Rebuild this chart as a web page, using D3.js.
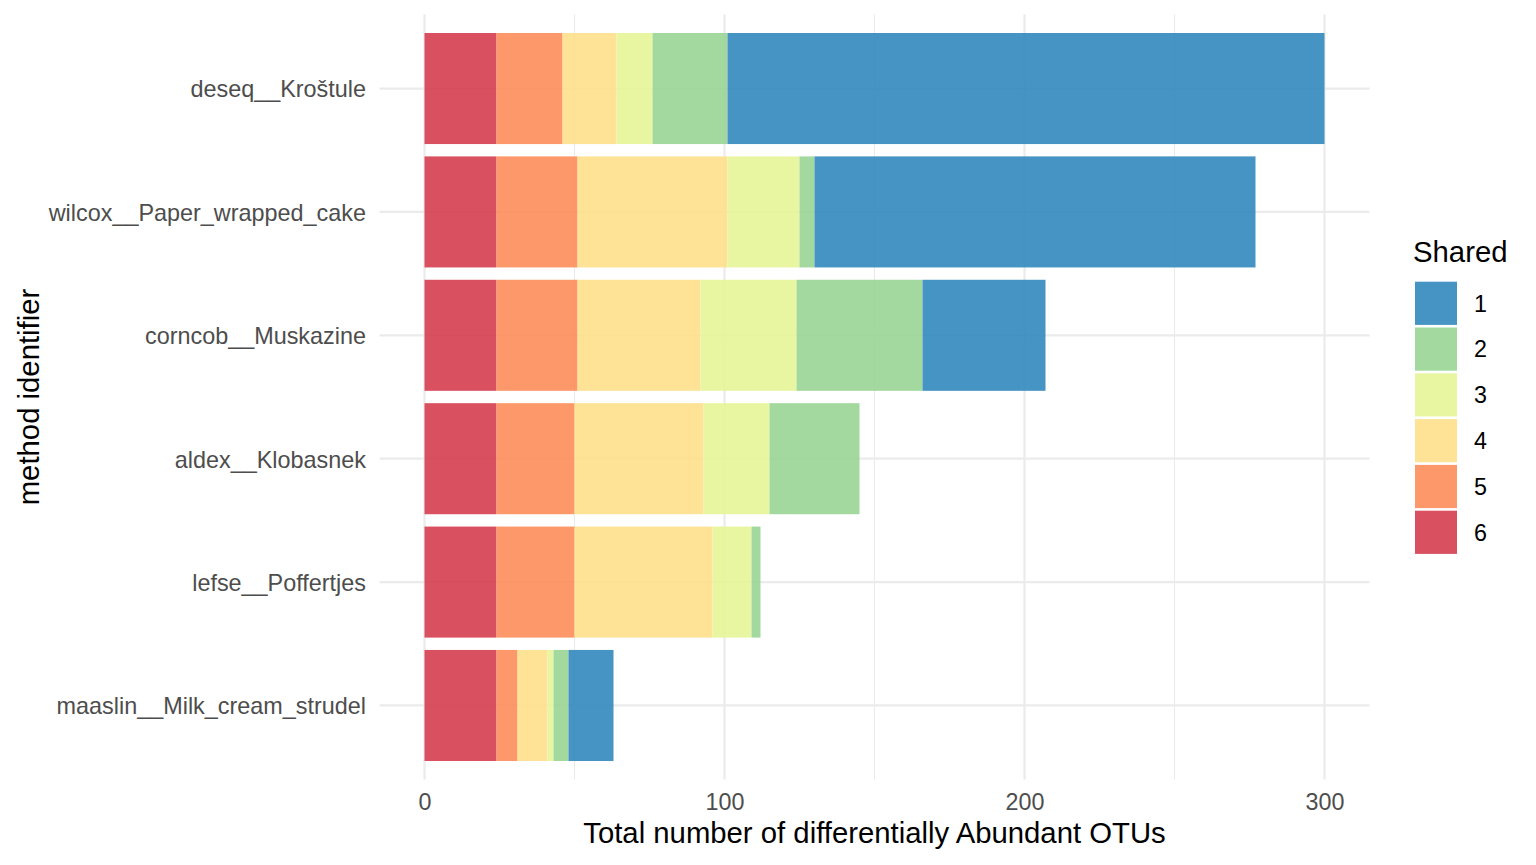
<!DOCTYPE html>
<html>
<head>
<meta charset="utf-8">
<script src="https://cdn.jsdelivr.net/npm/d3@7"></script>
<style>
  html, body { margin: 0; padding: 0; background: #ffffff; }
  svg { display: block; }
  text { font-family: "Liberation Sans", Arial, Helvetica, sans-serif; }
</style>
</head>
<body>
<svg id="chart" width="1536" height="865"></svg>
<script>
// ---- data ----
const categories = [
  "deseq__Kroštule",
  "wilcox__Paper_wrapped_cake",
  "corncob__Muskazine",
  "aldex__Klobasnek",
  "lefse__Poffertjes",
  "maaslin__Milk_cream_strudel"
];
// stacking order from left (6) to right (1)
const sharedLevels = ["6", "5", "4", "3", "2", "1"];
const legendLevels = ["1", "2", "3", "4", "5", "6"];
const shared6 = [24, 24, 24, 24, 24, 24];
const shared5 = [22, 27, 27, 26, 26, 7];
const shared4 = [18, 50, 41, 43, 46, 10];
const shared3 = [12, 24, 32, 22, 13, 2];
const shared2 = [25, 5, 42, 30, 3, 5];
const shared1 = [199, 147, 41, 0, 0, 15];
const xTicks = [0, 100, 200, 300];
const xMinorTicks = [50, 150, 250];
const palette = {
  "1": "#3288BD", "2": "#99D594", "3": "#E6F598",
  "4": "#FEE08B", "5": "#FC8D59", "6": "#D53E4F"
};

const seriesByLevel = { "6": shared6, "5": shared5, "4": shared4, "3": shared3, "2": shared2, "1": shared1 };
const table = categories.map((c, i) => {
  const row = { category: c };
  sharedLevels.forEach(l => row[l] = seriesByLevel[l][i]);
  return row;
});

// ---- layout ----
const svg = d3.select("#chart");
const panel = { left: 379.5, right: 1369.5, top: 14.5, bottom: 779.5 };

const x = d3.scaleLinear().domain([-15, 315]).range([panel.left, panel.right]);
const y = d3.scalePoint().domain(categories).range([panel.top, panel.bottom]).padding(0.6);
const barH = y.step() * 0.9;

const stack = d3.stack().keys(sharedLevels);
const stacked = stack(table);

// grid
const grid = svg.append("g");
grid.selectAll("line.minor").data(xMinorTicks).join("line")
  .attr("x1", d => x(d)).attr("x2", d => x(d))
  .attr("y1", panel.top).attr("y2", panel.bottom)
  .attr("stroke", "#EBEBEB").attr("stroke-width", 1.1);
grid.selectAll("line.majx").data(xTicks).join("line")
  .attr("x1", d => x(d)).attr("x2", d => x(d))
  .attr("y1", panel.top).attr("y2", panel.bottom)
  .attr("stroke", "#EBEBEB").attr("stroke-width", 2.2);
grid.selectAll("line.majy").data(categories).join("line")
  .attr("x1", panel.left).attr("x2", panel.right)
  .attr("y1", d => y(d)).attr("y2", d => y(d))
  .attr("stroke", "#EBEBEB").attr("stroke-width", 2.2);

// bars
const bars = svg.append("g");
stacked.forEach(layer => {
  bars.append("g")
    .attr("fill", palette[layer.key])
    .attr("fill-opacity", 0.9)
    .selectAll("rect")
    .data(layer.filter(d => d[1] - d[0] > 0))
    .join("rect")
    .attr("x", d => x(d[0]))
    .attr("width", d => x(d[1]) - x(d[0]))
    .attr("y", d => y(d.data.category) - barH / 2)
    .attr("height", barH);
});

// x axis tick labels
const xAxis = d3.axisBottom(x).tickValues(xTicks).tickSize(0).tickPadding(0);
const gx = svg.append("g").attr("transform", `translate(0,${panel.bottom})`).call(xAxis);
gx.select(".domain").remove();
gx.selectAll("text")
  .attr("y", 30.5).attr("dy", null)
  .attr("fill", "#4D4D4D")
  .style("font-size", "23.3px")
  .style("font-family", '"Liberation Sans", Arial, sans-serif');

// y axis labels
const yAxis = d3.axisLeft(y).tickSize(0).tickPadding(0);
const gy = svg.append("g").attr("transform", `translate(${panel.left},0)`).call(yAxis);
gy.select(".domain").remove();
gy.selectAll("text")
  .attr("x", -13.5).attr("dy", "0.36em")
  .attr("fill", "#4D4D4D")
  .style("font-size", "23.4px")
  .style("font-family", '"Liberation Sans", Arial, sans-serif');

// axis titles
svg.append("text")
  .attr("x", (panel.left + panel.right) / 2)
  .attr("y", 843)
  .attr("text-anchor", "middle")
  .attr("fill", "#000")
  .style("font-size", "29.3px")
  .text("Total number of differentially Abundant OTUs");

svg.append("text")
  .attr("transform", `translate(39,${(panel.top + panel.bottom) / 2}) rotate(-90)`)
  .attr("text-anchor", "middle")
  .attr("fill", "#000")
  .style("font-size", "29.3px")
  .text("method identifier");

// legend
const legend = svg.append("g");
legend.append("text")
  .attr("x", 1413).attr("y", 262)
  .attr("fill", "#000")
  .style("font-size", "29.3px")
  .text("Shared");
const keyStep = 45.8, keyTop = 281.7, keyW = 42, keyH = 43.2;
const keys = legend.selectAll("g.key").data(legendLevels).join("g")
  .attr("transform", (d, i) => `translate(1415,${keyTop + i * keyStep})`);
keys.append("rect")
  .attr("width", keyW).attr("height", keyH)
  .attr("fill", d => palette[d]).attr("fill-opacity", 0.9);
keys.append("text")
  .attr("x", 59).attr("y", keyH / 2).attr("dy", "0.36em")
  .attr("fill", "#000")
  .style("font-size", "23.3px")
  .text(d => d);
</script>
</body>
</html>
